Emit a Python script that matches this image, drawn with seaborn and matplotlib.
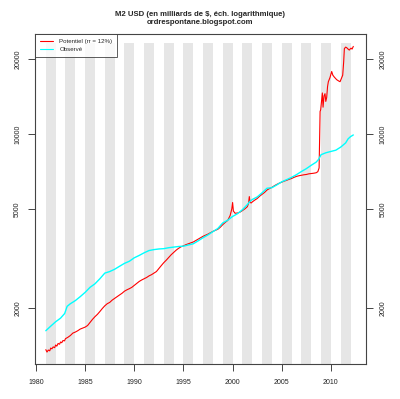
import numpy as np
import pandas as pd
import matplotlib
matplotlib.use("Agg")
import matplotlib.pyplot as plt
import seaborn as sns

sns.set_style("white")
plt.rcParams['font.family'] = ['Liberation Sans', 'DejaVu Sans']

# Potentiel (rr = 12%), milliards de $
pot_year = [1981.00, 1981.12, 1981.25, 1981.40, 1981.50, 1981.62, 1981.75, 1981.90,
            1982.00, 1982.12, 1982.25, 1982.40, 1982.50, 1982.62, 1982.75, 1982.90,
            1983.00, 1983.25, 1983.50, 1983.75, 1984.00, 1984.25, 1984.50, 1984.75,
            1985.00, 1985.25, 1985.50, 1985.75, 1986.00, 1986.25, 1986.50, 1986.75,
            1987.00, 1987.25, 1987.50, 1987.75, 1988.00, 1988.25, 1988.50, 1988.75,
            1989.00, 1989.25, 1989.50, 1989.75, 1990.00, 1990.25, 1990.50, 1990.75,
            1991.00, 1991.25, 1991.50, 1991.75, 1992.00, 1992.25, 1992.50, 1992.75,
            1993.00, 1993.25, 1993.50, 1993.75, 1994.00, 1994.25, 1994.50, 1994.75,
            1995.00, 1995.25, 1995.50, 1995.75, 1996.00, 1996.25, 1996.50, 1996.75,
            1997.00, 1997.25, 1997.50, 1997.75, 1998.00, 1998.25, 1998.50, 1998.75,
            1999.00, 1999.25, 1999.50, 1999.75, 1999.92, 2000.00, 2000.08, 2000.25,
            2000.50, 2000.75, 2001.00, 2001.25, 2001.50, 2001.62, 2001.70, 2001.78,
            2001.90, 2002.00, 2002.25, 2002.50, 2002.75, 2003.00, 2003.25, 2003.50,
            2003.75, 2004.00, 2004.25, 2004.50, 2004.75, 2005.00, 2005.25, 2005.50,
            2005.75, 2006.00, 2006.25, 2006.50, 2006.75, 2007.00, 2007.25, 2007.50,
            2007.75, 2008.00, 2008.25, 2008.50, 2008.67, 2008.80, 2008.90, 2008.96,
            2009.05, 2009.13, 2009.20, 2009.30, 2009.40, 2009.48, 2009.57, 2009.66,
            2009.74, 2009.90, 2010.08, 2010.20, 2010.35, 2010.59, 2010.80, 2010.93,
            2011.10, 2011.20, 2011.30, 2011.37, 2011.50, 2011.60, 2011.75, 2011.87,
            2011.95, 2012.05, 2012.15, 2012.28]
pot_val = [1360, 1330, 1355, 1345, 1380, 1370, 1395, 1385,
           1420, 1405, 1440, 1430, 1460, 1450, 1480, 1475,
           1505, 1525, 1550, 1585, 1600, 1620, 1645, 1660,
           1675, 1700, 1750, 1800, 1845, 1885, 1935, 1990,
           2040, 2080, 2105, 2150, 2185, 2220, 2255, 2290,
           2335, 2365, 2390, 2420, 2465, 2510, 2555, 2590,
           2620, 2650, 2690, 2720, 2760, 2800, 2880, 2960,
           3040, 3110, 3190, 3270, 3340, 3410, 3470, 3520,
           3550, 3590, 3620, 3650, 3680, 3730, 3780, 3830,
           3880, 3920, 3960, 4010, 4060, 4100, 4140, 4220,
           4320, 4410, 4490, 4700, 5000, 5300, 4900, 4800,
           4810, 4850, 4920, 5000, 5100, 5250, 5600, 5300,
           5280, 5330, 5420, 5500, 5620, 5720, 5820, 5950,
           6030, 6100, 6190, 6270, 6340, 6400, 6460, 6510,
           6570, 6620, 6690, 6750, 6790, 6820, 6850, 6870,
           6910, 6930, 6950, 6980, 7050, 7300, 12300, 12500,
           13600, 14600, 12800, 14200, 14500, 13500, 14000, 15500,
           16200, 16800, 17800, 17200, 16900, 16500, 16300, 16200,
           16800, 17200, 19500, 22000, 22300, 22200, 21900, 21700,
           21900, 22100, 21900, 22450]

# Observé, milliards de $
obs_year = [1981.0, 1981.5, 1982.0, 1982.5, 1982.92, 1983.17, 1983.5, 1984.0,
            1984.5, 1985.0, 1985.5, 1986.0, 1986.5, 1987.0, 1987.5, 1988.0,
            1988.5, 1989.0, 1989.5, 1990.0, 1990.5, 1991.0, 1991.5, 1992.0,
            1992.5, 1993.0, 1993.5, 1994.0, 1994.5, 1995.0, 1995.5, 1996.0,
            1996.5, 1997.0, 1997.5, 1998.0, 1998.5, 1999.0, 1999.5, 2000.0,
            2000.5, 2001.0, 2001.5, 2001.75, 2002.0, 2002.5, 2003.0, 2003.5,
            2004.0, 2004.5, 2005.0, 2005.5, 2006.0, 2006.5, 2007.0, 2007.5,
            2008.0, 2008.5, 2008.75, 2009.0, 2009.5, 2010.0, 2010.5, 2011.0,
            2011.5, 2011.75, 2012.0, 2012.28]
obs_val = [1620, 1690, 1760, 1820, 1900, 2030, 2080, 2140,
           2220, 2310, 2420, 2500, 2620, 2760, 2800, 2860,
           2940, 3020, 3080, 3180, 3250, 3330, 3400, 3430,
           3450, 3460, 3490, 3510, 3530, 3540, 3580, 3620,
           3720, 3830, 3930, 4050, 4170, 4390, 4500, 4660,
           4780, 4960, 5200, 5350, 5450, 5580, 5800, 6050,
           6080, 6240, 6420, 6550, 6690, 6860, 7060, 7250,
           7480, 7700, 7900, 8250, 8400, 8500, 8600, 8850,
           9200, 9550, 9750, 9900]

x_ticks = [1980, 1985, 1990, 1995, 2000, 2005, 2010]
y_ticks = [2000, 5000, 10000, 20000]
band_years = list(range(1981, 2012, 2))

df_pot = pd.DataFrame({'annee': pot_year, 'm2': pot_val})
df_obs = pd.DataFrame({'annee': obs_year, 'm2': obs_val})

fig = plt.figure(figsize=(4.0, 3.99), dpi=100)
ax = fig.add_axes([35 / 400, 1 - 364 / 399, 331 / 400, 330 / 399])

for y0 in band_years:
    ax.axvspan(y0, y0 + 1, ymin=0, ymax=0.973, color='#e6e6e6', lw=0, zorder=0)

sns.lineplot(data=df_pot, x='annee', y='m2', color='red', lw=0.8,
             label='Potentiel (rr = 12%)', ax=ax, estimator=None, sort=False)
sns.lineplot(data=df_obs, x='annee', y='m2', color='cyan', lw=1.0,
             label='Observé', ax=ax, estimator=None, sort=False)

ax.set_yscale('log')
ax.set_xlim(1979.9, 2013.57)
ax.set_ylim(1191, 25180)
ax.set_xticks(x_ticks)
ax.set_xticklabels([str(v) for v in x_ticks])
ax.set_yticks(y_ticks)
ax.set_yticklabels([str(v) for v in y_ticks])
ax.minorticks_off()
ax.set_xlabel('')
ax.set_ylabel('')

ax.tick_params(axis='both', which='major', direction='out', length=5, width=0.7,
               color='#444444', labelsize=5.0, labelcolor='#222222', pad=5)
ax.tick_params(axis='y', left=True, right=True, labelleft=True, labelright=True)
ax.tick_params(axis='x', bottom=True, pad=6)
for lab in ax.get_yticklabels():
    lab.set_rotation(90)
    lab.set_va('center')
for sp in ax.spines.values():
    sp.set_color('#444444')
    sp.set_linewidth(0.8)

leg = ax.legend(loc='upper left', bbox_to_anchor=(0, 1), borderaxespad=0,
                fontsize=4.4, fancybox=False, frameon=True, handlelength=2.2,
                borderpad=0.8, labelspacing=0.45, handletextpad=1.0)
leg.get_frame().set_edgecolor('#333333')
leg.get_frame().set_linewidth(0.7)
for line in leg.get_lines():
    line.set_linewidth(0.8)

fig.text(0.5, 1 - 14 / 399, 'M2 USD (en milliards de $, éch. logarithmique)',
         ha='center', va='center', fontsize=5.6, fontweight='bold')
fig.text(0.5, 1 - 23 / 399, 'ordrespontane.blogspot.com',
         ha='center', va='center', fontsize=5.6, fontweight='bold')

fig.savefig('out.png', dpi=100, facecolor='white')
